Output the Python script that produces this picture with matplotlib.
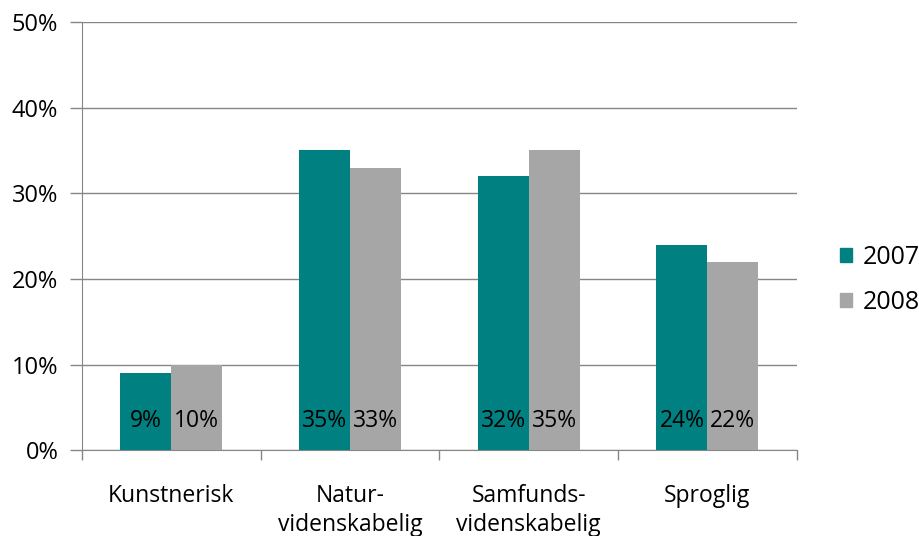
import numpy as np
import matplotlib
matplotlib.use("Agg")
from matplotlib import pyplot as plt
from matplotlib.patches import Patch

categories = ["Kunstnerisk", "Natur-\nvidenskabelig", "Samfunds-\nvidenskabelig", "Sproglig"]
years = ["2007", "2008"]
vals_2007 = [9, 35, 32, 24]
vals_2008 = [10, 33, 35, 22]
yticks = [0, 10, 20, 30, 40, 50]

teal = "#008080"
grey = "#A6A6A6"
grid_col = "#868686"

plt.rcParams["font.family"] = ["Open Sans", "DejaVu Sans"]

fig = plt.figure(figsize=(9.2, 5.36), dpi=100)
ax = fig.add_axes([0.089, 0.160, 0.777, 0.799])

x = np.arange(len(categories))
w = 0.285
b1 = ax.bar(x - w / 2, vals_2007, w, color=teal, zorder=3)
b2 = ax.bar(x + w / 2, vals_2008, w, color=grey, zorder=3)

for bars, vals in ((b1, vals_2007), (b2, vals_2008)):
    for rect, v in zip(bars, vals):
        ax.text(rect.get_x() + rect.get_width() / 2, 3.4, f"{v}%",
                ha="center", va="center", fontsize=16.5, color="#000000", zorder=4)

ax.set_xlim(-0.5, len(categories) - 0.5)
ax.set_ylim(0, 50)
ax.set_yticks(yticks)
ax.set_yticklabels([f"{t}%" for t in yticks], fontsize=17)
ax.yaxis.grid(True, color=grid_col, linewidth=1)
ax.set_axisbelow(True)

# category labels between boundary ticks
ax.set_xticks(np.arange(len(categories) + 1) - 0.5)
ax.set_xticklabels([])
ax.tick_params(axis="x", length=7, color=grid_col, width=1)
ax.tick_params(axis="y", length=9, color=grid_col, width=1, pad=8)
for i, c in enumerate(categories):
    ax.text(i, -3.9, c, ha="center", va="top", fontsize=16.5, linespacing=1.3)

for s in ("top", "right"):
    ax.spines[s].set_visible(False)
for s in ("left", "bottom"):
    ax.spines[s].set_color(grid_col)

handles = [Patch(color=teal), Patch(color=grey)]
fig.legend(handles, years, loc="center left", bbox_to_anchor=(0.913, 0.478),
           frameon=False, fontsize=18, handlelength=0.5, handleheight=0.5,
           handletextpad=0.4, labelspacing=0.8, borderpad=0, borderaxespad=0)

fig.savefig("out.png", dpi=100)
